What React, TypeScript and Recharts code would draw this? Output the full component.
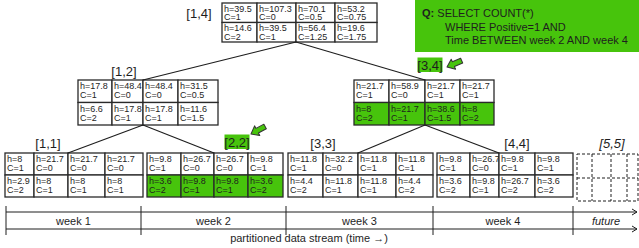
import React from 'react';
import {
  ComposedChart,
  XAxis,
  YAxis,
  ReferenceArea,
  ReferenceLine,
  ReferenceDot,
  Scatter,
} from 'recharts';

// ---------------- data ----------------
const nodeNames = ['[1,4]', '[1,2]', '[3,4]', '[1,1]', '[2,2]', '[3,3]', '[4,4]'];
const hTop = [
  [39.5, 107.3, 70.1, 53.2],
  [17.8, 48.4, 48.4, 31.5],
  [21.7, 58.9, 21.7, 21.7],
  [8, 21.7, 21.7, 21.7],
  [9.8, 26.7, 26.7, 9.8],
  [11.8, 32.2, 11.8, 11.8],
  [9.8, 26.7, 9.8, 9.8],
];
const cTop = [
  [1, 0, 0.5, 0.75],
  [1, 0, 0, 0.5],
  [1, 0, 1, 1],
  [1, 0, 0, 0],
  [1, 0, 0, 1],
  [1, 0, 1, 1],
  [1, 0, 1, 1],
];
const hBottom = [
  [14.6, 39.5, 56.4, 19.6],
  [6.6, 17.8, 17.8, 11.6],
  [8, 21.7, 38.6, 8],
  [2.9, 8, 8, 8],
  [3.6, 9.8, 9.8, 3.6],
  [4.4, 11.8, 11.8, 4.4],
  [3.6, 9.8, 26.7, 3.6],
];
const cBottom = [
  [2, 1, 1.25, 1.75],
  [2, 1, 1, 1.5],
  [2, 1, 1.5, 2],
  [2, 1, 1, 1],
  [2, 1, 1, 2],
  [2, 1, 1, 2],
  [2, 1, 2, 2],
];
const queryNodes = ['[3,4]', '[2,2]'];
const treeEdges = [
  ['[1,4]', '[1,2]'],
  ['[1,4]', '[3,4]'],
  ['[1,2]', '[1,1]'],
  ['[1,2]', '[2,2]'],
  ['[3,4]', '[3,3]'],
  ['[3,4]', '[4,4]'],
];
const futureName = '[5,5]';
const weekLabels = ['week 1', 'week 2', 'week 3', 'week 4', 'future'];
const queryPrefix = 'Q:';
const queryLines = ['SELECT COUNT(*)', 'WHERE Positive=1 AND', 'Time BETWEEN week 2 AND week 4'];
const streamCaption = 'partitioned data stream (time \u2192)';

// ---------------- layout ----------------
const W = 639;
const H = 248;
const FONT = '"Liberation Sans", Arial, Helvetica, sans-serif';
const GREEN = '#47c40c';
const INK = '#1e1e1e';
const nodeCols = [
  [222, 257, 296, 335, 377],
  [78, 112, 143, 178, 218],
  [354, 389, 425, 460, 494],
  [5, 34, 68, 105, 143],
  [147, 181, 214, 248, 283],
  [288, 323, 358, 396, 433],
  [437, 470, 499, 535, 573],
];
const nodeTop = [3, 80, 80, 153, 153, 153, 153];
const nodeRowH = [19.5, 22.5, 22.5, 22, 22, 22, 22];
const labelPos = [
  [199, 13],
  [124, 71],
  [430, 65],
  [48, 143],
  [237, 142],
  [323, 143],
  [517, 143],
];
const arrowTips = {
  '[3,4]': { tip: [447, 67], tail: [463, 60] },
  '[2,2]': { tip: [251, 134], tail: [266, 126] },
} as Record<string, { tip: number[]; tail: number[] }>;
const tickX = [6, 141, 286, 433, 573];
const streamTop = 212;
const streamBottom = 229;
const streamEnd = 637;

const fmt = (v: number) => String(v);

const anchors = nodeNames.map((n, i) => ({ x: nodeCols[i][2], y: nodeTop[i] }));

function textShape(
  str: React.ReactNode,
  opts: { size?: number; anchor?: string; italic?: boolean; weight?: string; dy?: number } = {}
) {
  return (p: any) => (
    <text
      x={p.cx}
      y={p.cy + (opts.dy ?? 0)}
      fontFamily={FONT}
      fontSize={opts.size ?? 9}
      textAnchor={(opts.anchor as any) ?? 'start'}
      fontStyle={opts.italic ? 'italic' : 'normal'}
      fontWeight={opts.weight ?? 'normal'}
      fill={INK}
    >
      {str}
    </text>
  );
}

function cellShape(h: number, c: number, fill: string, rowH: number) {
  return (p: any) => (
    <g>
      <rect x={p.x} y={p.y} width={p.width} height={p.height} fill={fill} stroke="#2a2a2a" strokeWidth={1.3} />
      <text x={p.x + 2} y={p.y + (rowH < 21 ? 8.8 : 9)} fontFamily={FONT} fontSize={9} fill={INK}>
        {`h=${fmt(h)}`}
      </text>
      <text x={p.x + 2} y={p.y + (rowH < 21 ? 17.3 : 18)} fontFamily={FONT} fontSize={9} fill={INK}>
        {`C=${fmt(c)}`}
      </text>
    </g>
  );
}

function arrowShape(angle: number) {
  return (p: any) => (
    <polygon
      transform={`translate(${p.cx},${p.cy}) rotate(${angle})`}
      points="0,0 -7,-5.5 -7,-2.6 -16,-2.6 -16,2.6 -7,2.6 -7,5.5"
      fill={GREEN}
      stroke="#333"
      strokeWidth={1}
      strokeLinejoin="round"
    />
  );
}

const arrowHead = (p: any) => (
  <path d={`M${p.cx - 5},${p.cy - 3} L${p.cx},${p.cy} L${p.cx - 5},${p.cy + 3}`} fill="none" stroke={INK} strokeWidth={1} />
);

export default function App() {
  const elems: React.ReactNode[] = [];

  // query box
  elems.push(
    <ReferenceArea key="qbox" x1={415} x2={W} y1={0} y2={52} fill={GREEN} fillOpacity={1} stroke="none" ifOverflow="visible" />
  );
  elems.push(
    <ReferenceDot
      key="q0"
      x={422}
      y={17}
      ifOverflow="visible"
      shape={textShape(
        <>
          <tspan fontWeight="bold">{queryPrefix}</tspan>
          <tspan>{' ' + queryLines[0]}</tspan>
        </>,
        { size: 11 }
      )}
    />
  );
  elems.push(<ReferenceDot key="q1" x={445} y={31} ifOverflow="visible" shape={textShape(queryLines[1], { size: 11 })} />);
  elems.push(<ReferenceDot key="q2" x={445} y={44} ifOverflow="visible" shape={textShape(queryLines[2], { size: 11 })} />);

  // tree edges
  treeEdges.forEach(([a, b], k) => {
    const ia = nodeNames.indexOf(a);
    const ib = nodeNames.indexOf(b);
    elems.push(
      <ReferenceLine
        key={`edge${k}`}
        segment={[
          { x: nodeCols[ia][2], y: nodeTop[ia] + 2 * nodeRowH[ia] },
          { x: nodeCols[ib][2], y: nodeTop[ib] },
        ]}
        stroke={INK}
        strokeWidth={1.2}
        ifOverflow="visible"
      />
    );
  });

  // nodes
  nodeNames.forEach((name, i) => {
    const hi = queryNodes.includes(name);
    [0, 1].forEach((r) => {
      for (let j = 0; j < 4; j++) {
        const h = r === 0 ? hTop[i][j] : hBottom[i][j];
        const c = r === 0 ? cTop[i][j] : cBottom[i][j];
        const fill = r === 1 && hi ? GREEN : '#ffffff';
        elems.push(
          <ReferenceArea
            key={`cell${i}-${r}-${j}`}
            x1={nodeCols[i][j]}
            x2={nodeCols[i][j + 1]}
            y1={nodeTop[i] + r * nodeRowH[i]}
            y2={nodeTop[i] + (r + 1) * nodeRowH[i]}
            ifOverflow="visible"
            shape={cellShape(h, c, fill, nodeRowH[i])}
          />
        );
      }
    });
    const [lx, ly] = labelPos[i];
    if (hi) {
      elems.push(
        <ReferenceArea
          key={`lbg${i}`}
          x1={lx - 12.5}
          x2={lx + 12.5}
          y1={ly - 7.5}
          y2={ly + 7}
          fill={GREEN}
          fillOpacity={1}
          stroke="none"
          ifOverflow="visible"
        />
      );
    }
    elems.push(
      <ReferenceDot key={`lbl${i}`} x={lx} y={ly + 4.5} ifOverflow="visible" shape={textShape(name, { size: 13, anchor: 'middle' })} />
    );
    if (arrowTips[name]) {
      const { tip, tail } = arrowTips[name];
      const ang = (Math.atan2(tip[1] - tail[1], tip[0] - tail[0]) * 180) / Math.PI;
      elems.push(<ReferenceDot key={`arr${i}`} x={tip[0]} y={tip[1]} ifOverflow="visible" shape={arrowShape(ang)} />);
    }
  });

  // future node (dashed)
  elems.push(
    <ReferenceArea key="fut" x1={577} x2={638} y1={154} y2={201} fill="none" stroke={INK} strokeWidth={1} strokeDasharray="3 2" ifOverflow="visible" />
  );
  elems.push(
    <ReferenceLine key="futm" segment={[{ x: 577, y: 178 }, { x: 638, y: 178 }]} stroke={INK} strokeWidth={1} strokeDasharray="3 2" ifOverflow="visible" />
  );
  [592, 611, 627].forEach((vx, k) =>
    elems.push(
      <ReferenceLine key={`futv${k}`} segment={[{ x: vx, y: 154 }, { x: vx, y: 201 }]} stroke={INK} strokeWidth={1} strokeDasharray="3 2" ifOverflow="visible" />
    )
  );
  elems.push(
    <ReferenceDot key="futl" x={612} y={147.5} ifOverflow="visible" shape={textShape(futureName, { size: 13, anchor: 'middle', italic: true })} />
  );

  // stream
  [streamTop, streamBottom].forEach((sy, k) => {
    elems.push(
      <ReferenceLine key={`sl${k}`} segment={[{ x: tickX[0], y: sy }, { x: streamEnd, y: sy }]} stroke={INK} strokeWidth={1} ifOverflow="visible" />
    );
    elems.push(<ReferenceDot key={`sa${k}`} x={streamEnd} y={sy} ifOverflow="visible" shape={arrowHead} />);
  });
  tickX.forEach((tx, k) =>
    elems.push(
      <ReferenceLine key={`tk${k}`} segment={[{ x: tx, y: streamTop - 6 }, { x: tx, y: streamBottom + 6 }]} stroke={INK} strokeWidth={1} ifOverflow="visible" />
    )
  );
  weekLabels.forEach((wl, k) => {
    const left = tickX[k];
    const right = k + 1 < tickX.length ? tickX[k + 1] : W;
    elems.push(
      <ReferenceDot
        key={`wk${k}`}
        x={(left + right) / 2}
        y={(streamTop + streamBottom) / 2 + 4}
        ifOverflow="visible"
        shape={textShape(wl, { size: 11, anchor: 'middle', italic: k === weekLabels.length - 1 })}
      />
    );
  });
  elems.push(
    <ReferenceDot key="cap" x={309} y={242} ifOverflow="visible" shape={textShape(streamCaption, { size: 11, anchor: 'middle' })} />
  );

  return (
    <div style={{ position: 'absolute', left: 0, top: 0, width: W, height: H, background: '#fff' }}>
      <ComposedChart width={W} height={H} data={anchors} margin={{ top: 0, right: 0, bottom: 0, left: 0 }}>
        <XAxis type="number" dataKey="x" domain={[0, W]} allowDataOverflow hide />
        <YAxis type="number" dataKey="y" domain={[0, H]} allowDataOverflow reversed hide />
        <Scatter data={anchors} dataKey="y" fill="none" shape={() => <g />} isAnimationActive={false} />
        {elems}
      </ComposedChart>
    </div>
  );
}
